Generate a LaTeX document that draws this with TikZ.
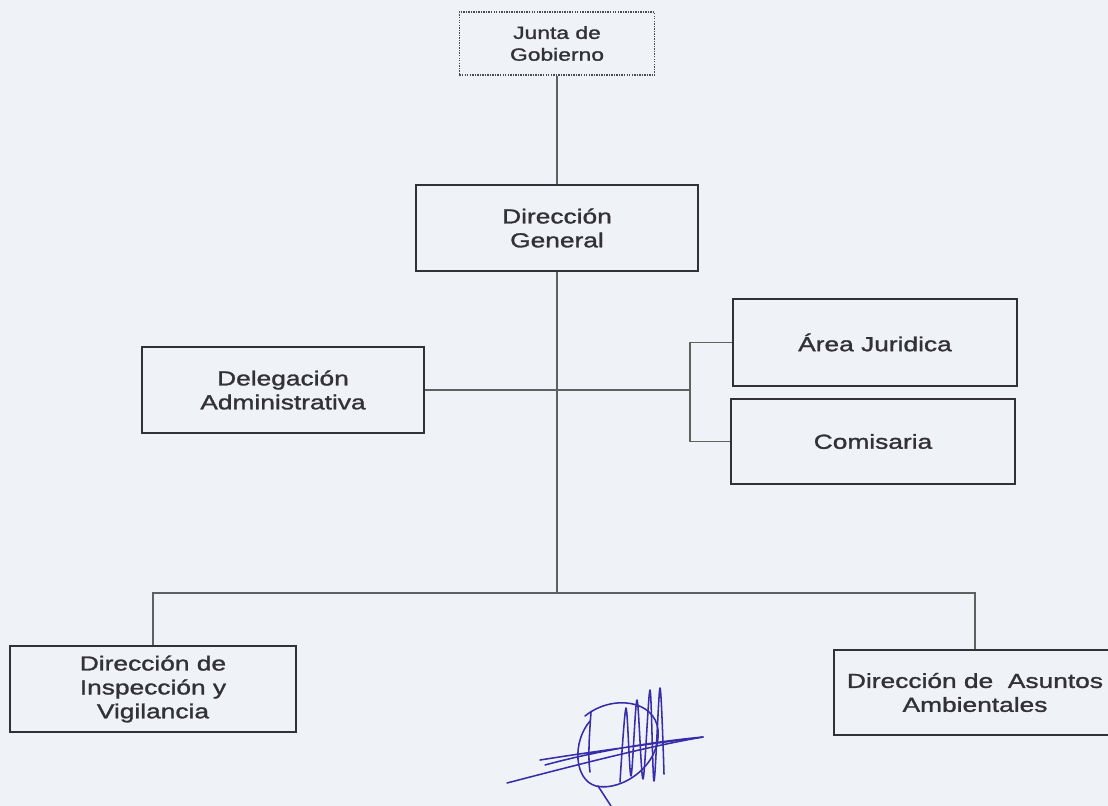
\documentclass[tikz,border=0pt]{standalone}
\usepackage{fontspec}
\setmainfont{Liberation Sans}[FakeStretch=1.3,FakeBold=1.4]
\definecolor{paper}{RGB}{239,242,246}
\definecolor{ink}{RGB}{50,50,54}
\definecolor{pen}{RGB}{55,45,170}

\begin{document}
\begin{tikzpicture}[x=0.025cm,y=-0.025cm,
		block/.style={draw=ink,line width=1.3pt,fill=paper,text=ink,align=center,inner sep=2pt,
			minimum width=7.05cm,minimum height=2.15cm,font=\fontsize{14.4}{17}\selectfont},
		link/.style={draw=gray!75!black,line width=0.9pt},
		sig/.style={draw=pen,line width=1.1pt,line cap=round,line join=round}
		]
		%Page
		\useasboundingbox (0,0) rectangle (1108,806);
		\clip (0,0) rectangle (1108,806);
		\fill[paper] (0,0) rectangle (1108,806);
		%Draw boxes
		\path (557,43.5) node[block,draw=gray!60!black,dash pattern=on 1pt off 0.8pt,line width=1.3pt,
			minimum width=4.875cm,minimum height=1.575cm,font=\fontsize{12.5}{15.5}\selectfont] (junta) {Junta de\\Gobierno}
		(557,228) node[block] (dirgen) {Dirección\\General}
		(283,390) node[block] (deleg) {Delegación\\Administrativa}
		(875,342.5) node[block,minimum width=7.1cm,minimum height=2.175cm] (area) {Área Juridica}
		(873,441.5) node[block,minimum width=7.1cm,minimum height=2.125cm] (comi) {Comisaria}
		(153,689) node[block,minimum width=7.15cm] (insp) {Dirección de\\Inspección y\\Vigilancia}
		(975,692.5) node[block,minimum width=7.05cm,minimum height=2.125cm] (amb) {Dirección de~ Asuntos\\Ambientales};
		\path (557,593) coordinate (bar)
		(690,390) coordinate (brk);
		%Draw connectors
		\draw[link] (junta) -- (dirgen);
		\draw[link] (dirgen.south) -- (bar);
		\draw[link] (deleg.east) -- (brk);
		\draw[link] (area.west) -| (brk) |- (comi.west);
		\draw[link] (insp.north) |- (bar) -| (amb.north);
		%Signature
		\draw[sig] (507,783) .. controls (580,764) and (650,746) .. (703,737);
		\draw[sig] (545,765) .. controls (600,750) and (660,741) .. (703,737) .. controls (650,744) and (590,752) .. (540,760);
		\draw[sig] (585,716) .. controls (612,694) and (655,700) .. (658,730) .. controls (661,765) and (622,792) .. (596,786) .. controls (574,780) and (572,742) .. (590,721);
		\draw[sig] (591,712) .. controls (589,740) and (588,758) .. (590,772);
		\draw[sig] plot[smooth] coordinates {(620,782) (626,708) (631,776) (637,700) (643,779) (650,690) (654,781) (660,688) (664,774)};
		\draw[sig] (598,786) -- (611,806);
	\end{tikzpicture}
\end{document}
